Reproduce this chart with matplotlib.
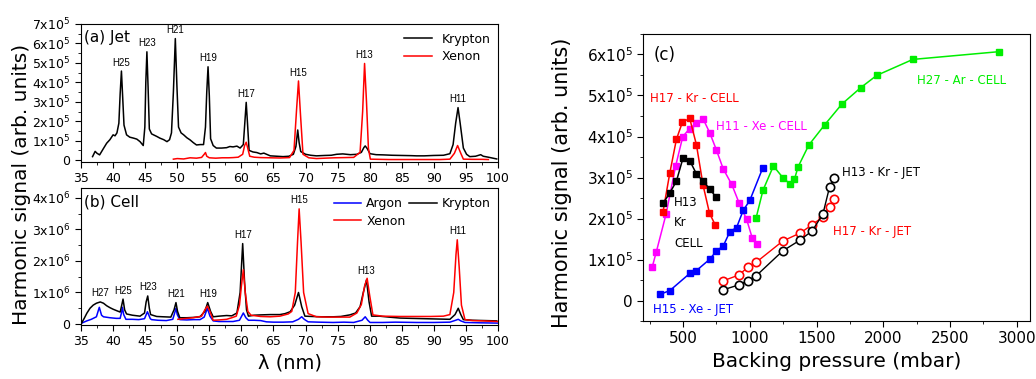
import numpy as np
import matplotlib
matplotlib.use("Agg")
import matplotlib.pyplot as plt
from matplotlib.ticker import MultipleLocator, FuncFormatter

plt.rcParams['font.family'] = ['DejaVu Sans']

# ---------------- (a) Jet spectra, units of 1e5 ----------------
jet_kr_lam = [36.8, 37.2, 37.5, 37.9, 38.5, 39.0, 39.5, 40.0, 40.3, 40.6, 40.9, 41.1, 41.3, 41.5, 41.7,
              42.1, 42.6, 43.2, 43.7, 44.2, 44.7, 44.95, 45.1, 45.27, 45.45, 45.65, 46.0, 46.3, 46.8,
              47.3, 47.9, 48.4, 48.8, 49.1, 49.4, 49.7, 49.95, 50.2, 50.6, 51.0, 51.5, 52.0, 52.5,
              53.0, 53.6, 54.1, 54.4, 54.6, 54.8, 55.0, 55.2, 55.6, 56.1, 56.9, 57.7, 58.2, 58.7,
              59.3, 59.8, 60.3, 60.55, 60.75, 60.95, 61.2, 61.8, 62.4, 63.0, 63.5, 64.5, 65.5, 66.5,
              67.4, 68.1, 68.5, 68.78, 69.0, 69.25, 70.0, 70.8, 71.7, 73.0, 74.0, 74.85, 75.8, 77.0,
              78.0, 78.7, 79.1, 79.3, 79.6, 80.05, 81.0, 82.1, 83.5, 85.0, 86.5, 87.3, 88.5, 90.0,
              91.5, 92.5, 93.0, 93.4, 93.77, 94.1, 94.6, 95.1, 95.6, 96.5, 97.3, 97.7, 98.5, 99.8]
jet_kr_sig = [0.18, 0.45, 0.35, 0.27, 0.6, 0.87, 1.05, 1.30, 1.25, 1.40, 1.9, 3.4, 4.58, 3.2, 1.8,
              1.30, 1.18, 1.13, 1.08, 0.95, 0.75, 1.7, 4.0, 5.57, 3.8, 1.6, 1.35, 1.30, 1.22,
              1.13, 1.05, 0.95, 1.05, 1.4, 3.5, 6.25, 3.8, 1.7, 1.40, 1.30, 1.15, 1.04, 0.90,
              0.78, 0.80, 0.80, 1.7, 3.5, 4.8, 3.3, 1.1, 0.75, 0.62, 0.62, 0.64, 0.70, 0.68,
              0.72, 0.62, 0.8, 2.0, 2.97, 1.9, 0.5, 0.42, 0.39, 0.32, 0.36, 0.22, 0.20, 0.18,
              0.20, 0.30, 0.7, 1.55, 0.9, 0.44, 0.30, 0.25, 0.22, 0.24, 0.25, 0.30, 0.32, 0.28,
              0.30, 0.40, 0.65, 0.73, 0.60, 0.33, 0.28, 0.27, 0.25, 0.24, 0.23, 0.22, 0.22, 0.24,
              0.25, 0.33, 0.8, 1.9, 2.70, 1.9, 0.62, 0.30, 0.18, 0.20, 0.28, 0.20, 0.15, 0.06]

jet_xe_lam = [49.4, 50.0, 51.0, 52.0, 53.0, 53.8, 54.2, 54.4, 54.6, 55.0, 56.0, 57.0, 58.0, 58.7,
              59.5, 60.2, 60.5, 60.75, 61.0, 61.3, 62.0, 63.0, 64.5, 66.0, 67.5, 68.2, 68.6, 68.9,
              69.2, 69.6, 70.5, 71.7, 73.0, 74.5, 76.0, 77.5, 78.5, 78.9, 79.2, 79.5, 79.8, 80.1,
              81.5, 83.0, 85.0, 87.0, 89.0, 91.0, 92.5, 93.2, 93.7, 94.2, 94.6, 96.0, 97.5, 98.5]
jet_xe_sig = [0.05, 0.08, 0.06, 0.12, 0.10, 0.14, 0.30, 0.39, 0.20, 0.12, 0.10, 0.12, 0.12, 0.13,
              0.15, 0.30, 0.75, 0.92, 0.60, 0.20, 0.15, 0.13, 0.12, 0.11, 0.13, 0.5, 2.6, 4.07,
              2.4, 0.30, 0.12, 0.08, 0.10, 0.12, 0.13, 0.14, 0.4, 2.5, 4.97, 3.0, 0.6, 0.05,
              0.04, 0.03, 0.03, 0.03, 0.03, 0.03, 0.05, 0.35, 0.75, 0.35, 0.05, 0.04, 0.04, 0.03]

jet_labels = ['H25', 'H23', 'H21', 'H19', 'H17', 'H15', 'H13', 'H11']
jet_label_lam = [41.3, 45.27, 49.7, 54.8, 60.75, 68.9, 79.2, 93.77]

# ---------------- (b) Cell spectra, units of 1e6 ----------------
cell_ar_lam = [35.0, 35.9, 36.6, 37.4, 37.85, 38.2, 38.5, 39.5, 40.5, 41.1, 41.3, 41.45, 41.65, 42.0,
               43.0, 44.0, 44.9, 45.35, 45.8, 46.0, 47.0, 48.3, 49.3, 49.6, 49.8, 50.0, 50.4, 51.5,
               52.5, 53.55, 54.2, 54.7, 55.1, 55.6, 56.5, 57.5, 58.7, 59.7, 60.3, 60.7, 61.1, 62.0,
               63.0, 63.9, 65.0, 66.5, 68.0, 68.9, 69.4, 69.8, 70.4, 72.0, 74.3, 76.0, 77.5, 78.8,
               79.3, 79.7, 80.05, 82.0, 84.0, 87.3, 90.0, 92.5, 93.4, 93.8, 94.2, 94.85, 97.0, 99.9]
cell_ar_sig = [0.02, 0.10, 0.15, 0.23, 0.53, 0.28, 0.23, 0.20, 0.18, 0.18, 0.35, 0.53, 0.30, 0.15,
               0.15, 0.14, 0.17, 0.39, 0.17, 0.14, 0.12, 0.11, 0.15, 0.35, 0.50, 0.30, 0.14, 0.13,
               0.14, 0.14, 0.22, 0.50, 0.25, 0.10, 0.08, 0.08, 0.08, 0.12, 0.35, 0.20, 0.12, 0.12,
               0.11, 0.07, 0.06, 0.06, 0.07, 0.15, 0.23, 0.15, 0.07, 0.06, 0.05, 0.06, 0.05, 0.12,
               0.23, 0.12, 0.05, 0.05, 0.06, 0.05, 0.05, 0.06, 0.12, 0.15, 0.10, 0.05, 0.04, 0.03]

cell_kr_lam = [35.0, 35.5, 35.9, 36.4, 36.9, 37.4, 38.0, 38.5, 39.0, 39.5, 40.0, 40.6, 41.1, 41.35,
               41.55, 41.8, 42.1, 43.0, 44.2, 44.9, 45.15, 45.4, 45.65, 45.85, 46.8, 47.8, 49.0,
               49.5, 49.8, 50.05, 50.4, 51.5, 52.5, 53.55, 54.3, 54.75, 55.2, 55.6, 56.5, 57.7,
               58.5, 59.3, 59.8, 60.2, 60.5, 60.8, 61.1, 62.0, 63.0, 64.5, 66.0, 66.8, 67.6, 68.3,
               68.9, 69.4, 69.9, 71.0, 72.5, 74.3, 75.5, 76.9, 77.8, 78.5, 79.0, 79.5, 79.9, 80.3,
               81.5, 83.0, 84.7, 86.5, 88.5, 90.5, 92.5, 93.3, 93.8, 94.2, 94.6, 96.0, 98.0, 99.8]
cell_kr_sig = [0.0, 0.18, 0.34, 0.50, 0.60, 0.66, 0.70, 0.66, 0.58, 0.52, 0.47, 0.42, 0.38, 0.60,
               0.79, 0.45, 0.32, 0.28, 0.25, 0.35, 0.70, 0.89, 0.50, 0.30, 0.24, 0.23, 0.22,
               0.45, 0.68, 0.40, 0.20, 0.20, 0.21, 0.23, 0.40, 0.68, 0.40, 0.23, 0.25, 0.27,
               0.26, 0.35, 1.0, 2.55, 1.3, 0.45, 0.25, 0.28, 0.29, 0.30, 0.30, 0.33, 0.39, 0.60,
               1.0, 0.55, 0.25, 0.24, 0.23, 0.23, 0.24, 0.29, 0.35, 0.55, 1.0, 1.40, 0.70, 0.25,
               0.25, 0.22, 0.19, 0.18, 0.17, 0.16, 0.15, 0.30, 0.50, 0.30, 0.14, 0.12, 0.11, 0.10]

cell_xe_lam = [50.1, 51.0, 52.5, 53.8, 54.3, 54.7, 55.1, 55.6, 56.5, 57.7, 58.5, 59.2, 59.7, 60.0,
               60.3, 60.6, 61.0, 61.5, 63.0, 64.5, 66.0, 67.3, 67.85, 68.4, 68.75, 69.0, 69.3, 69.7,
               70.4, 71.7, 73.5, 75.0, 76.9, 78.0, 78.7, 79.2, 79.6, 80.0, 80.5, 82.0, 84.7, 87.0,
               89.5, 91.5, 92.5, 93.1, 93.45, 93.65, 93.95, 94.3, 94.85, 96.0, 97.7, 99.9]
cell_xe_sig = [0.15, 0.17, 0.20, 0.25, 0.45, 0.57, 0.40, 0.12, 0.13, 0.15, 0.20, 0.25, 0.60, 1.2,
               1.72, 1.0, 0.40, 0.28, 0.24, 0.23, 0.25, 0.32, 0.40, 1.0, 2.6, 3.65, 2.6, 1.0,
               0.33, 0.23, 0.22, 0.22, 0.22, 0.35, 0.62, 1.2, 1.45, 0.9, 0.29, 0.25, 0.24, 0.24,
               0.24, 0.25, 0.30, 1.0, 2.2, 2.67, 1.8, 0.60, 0.14, 0.11, 0.10, 0.08]

cell_labels = ['H27', 'H25', 'H23', 'H21', 'H19', 'H17', 'H15', 'H13', 'H11']
cell_label_lam = [38.0, 41.55, 45.4, 49.8, 54.75, 60.2, 69.0, 79.5, 93.65]

# ---------------- (c) signal vs backing pressure ----------------
h17_kr_cell_p = [350, 400, 450, 495, 550, 600, 650, 698, 740]
h17_kr_cell_s = [2.17, 3.10, 3.93, 4.35, 4.44, 3.80, 2.81, 2.13, 1.85]

h13_kr_cell_p = [350, 400, 450, 500, 550, 600, 650, 700, 745]
h13_kr_cell_s = [2.37, 2.62, 2.91, 3.48, 3.41, 3.09, 2.91, 2.72, 2.53]

h11_xe_cell_p = [269, 299, 372, 445, 498, 549, 598, 650, 700, 750, 801, 865, 921, 976, 1019, 1051]
h11_xe_cell_s = [0.82, 1.18, 2.10, 3.29, 4.00, 4.19, 4.32, 4.43, 4.09, 3.67, 3.21, 2.83, 2.37, 1.98,
                 1.52, 1.39]

h15_xe_jet_p = [325, 400, 550, 600, 701, 750, 801, 851, 901, 951, 1000, 1098]
h15_xe_jet_s = [0.15, 0.24, 0.66, 0.73, 1.01, 1.21, 1.33, 1.68, 1.78, 2.20, 2.44, 3.24]

h27_ar_cell_p = [1047, 1099, 1177, 1247, 1302, 1335, 1362, 1442, 1560, 1690, 1831, 1951, 2222, 2871]
h27_ar_cell_s = [2.01, 2.69, 3.28, 3.00, 2.84, 2.96, 3.26, 3.79, 4.28, 4.79, 5.19, 5.49, 5.88, 6.07]

h17_kr_jet_p = [801, 916, 986, 1047, 1247, 1380, 1468, 1548, 1598, 1633]
h17_kr_jet_s = [0.48, 0.62, 0.81, 0.93, 1.45, 1.65, 1.85, 2.04, 2.27, 2.48]

h13_kr_jet_p = [801, 916, 983, 1047, 1247, 1380, 1468, 1548, 1598, 1632]
h13_kr_jet_s = [0.26, 0.38, 0.48, 0.60, 1.21, 1.48, 1.70, 2.11, 2.77, 2.98]


def sci_fmt(power):
    def f(v, pos):
        n = int(round(v / 10 ** power))
        if n == 0:
            return '0'
        return f'{n}x10$^{{{power}}}$'
    return FuncFormatter(f)


def style_axis(ax):
    ax.tick_params(which='both', direction='out', top=False, right=False, labelsize=9)
    ax.tick_params(which='major', length=4)
    ax.tick_params(which='minor', length=2)


fig = plt.figure(figsize=(10.36, 3.79), dpi=100)
ax_a = fig.add_axes([0.0782, 0.5734, 0.4025, 0.3633])
ax_b = fig.add_axes([0.0782, 0.1425, 0.4025, 0.3605])
ax_c = fig.add_axes([0.6207, 0.153, 0.3735, 0.7573])

# (a)
ax_a.plot(jet_kr_lam, np.array(jet_kr_sig) * 1e5, color='black', lw=1.1, label='Krypton')
ax_a.plot(jet_xe_lam, np.array(jet_xe_sig) * 1e5, color='red', lw=1.1, label='Xenon')
ax_a.set_xlim(35, 100)
ax_a.set_ylim(-0.08e5, 7e5)
ax_a.xaxis.set_major_locator(MultipleLocator(5))
ax_a.xaxis.set_minor_locator(MultipleLocator(2.5))
ax_a.yaxis.set_major_locator(MultipleLocator(1e5))
ax_a.yaxis.set_minor_locator(MultipleLocator(0.5e5))
ax_a.yaxis.set_major_formatter(sci_fmt(5))
style_axis(ax_a)
ax_a.text(0.006, 0.9, '(a) Jet', transform=ax_a.transAxes, fontsize=11, va='center')
for name, lam in zip(jet_labels, jet_label_lam):
    top = max(np.interp(lam, jet_kr_lam, jet_kr_sig), np.interp(lam, jet_xe_lam, jet_xe_sig)) * 1e5
    ax_a.annotate(name, (lam, top), xytext=(0, 2.5), textcoords='offset points',
                  ha='center', va='bottom', fontsize=7, family='Liberation Sans')
ax_a.legend(loc='upper right', bbox_to_anchor=(1.0, 0.99), frameon=False, fontsize=9,
            handlelength=2.2, labelspacing=0.35, borderaxespad=0.2)

# (b)
ax_b.plot(cell_ar_lam, np.array(cell_ar_sig) * 1e6, color='blue', lw=1.1, label='Argon')
ax_b.plot(cell_xe_lam, np.array(cell_xe_sig) * 1e6, color='red', lw=1.1, label='Xenon')
ax_b.plot(cell_kr_lam, np.array(cell_kr_sig) * 1e6, color='black', lw=1.1, label='Krypton')
ax_b.lines[1].set_zorder(3)
ax_b.set_xlim(35, 100)
ax_b.set_ylim(-0.03e6, 4.3e6)
ax_b.xaxis.set_major_locator(MultipleLocator(5))
ax_b.xaxis.set_minor_locator(MultipleLocator(2.5))
ax_b.yaxis.set_major_locator(MultipleLocator(1e6))
ax_b.yaxis.set_minor_locator(MultipleLocator(0.5e6))
ax_b.yaxis.set_major_formatter(sci_fmt(6))
style_axis(ax_b)
ax_b.text(0.006, 0.9, '(b) Cell', transform=ax_b.transAxes, fontsize=11, va='center')
for name, lam in zip(cell_labels, cell_label_lam):
    top = max(np.interp(lam, cell_kr_lam, cell_kr_sig), np.interp(lam, cell_xe_lam, cell_xe_sig),
              np.interp(lam, cell_ar_lam, cell_ar_sig)) * 1e6
    ax_b.annotate(name, (lam, top), xytext=(0, 2.5), textcoords='offset points',
                  ha='center', va='bottom', fontsize=7, family='Liberation Sans')
ax_b.legend(loc='upper right', bbox_to_anchor=(1.0, 0.99), frameon=False, fontsize=9, ncol=2,
            handlelength=2.2, labelspacing=0.35, columnspacing=0.3, handletextpad=0.4,
            borderaxespad=0.2)
ax_b.set_xlabel('λ (nm)', fontsize=14)
fig.text(0.021, 1 - 184 / 379, 'Harmonic signal (arb. units)', rotation=90,
         ha='center', va='center', fontsize=14.5)

# (c)
sq = dict(marker='s', ms=5, lw=1.1)
ax_c.plot(h11_xe_cell_p, np.array(h11_xe_cell_s) * 1e5, color='magenta', **sq)
ax_c.plot(h15_xe_jet_p, np.array(h15_xe_jet_s) * 1e5, color='blue', **sq)
ax_c.plot(h27_ar_cell_p, np.array(h27_ar_cell_s) * 1e5, color='#00ee00', **sq)
ax_c.plot(h17_kr_cell_p, np.array(h17_kr_cell_s) * 1e5, color='red', **sq)
ax_c.plot(h13_kr_cell_p, np.array(h13_kr_cell_s) * 1e5, color='black', **sq)
ax_c.plot(h17_kr_jet_p, np.array(h17_kr_jet_s) * 1e5, color='red', marker='o', ms=6,
          mfc='white', mew=1.2, lw=1.0)
ax_c.plot(h13_kr_jet_p, np.array(h13_kr_jet_s) * 1e5, color='black', marker='o', ms=6,
          mfc='white', mew=1.2, lw=1.0)
ax_c.set_xlim(200, 3100)
ax_c.set_ylim(-0.5e5, 6.5e5)
ax_c.xaxis.set_major_locator(MultipleLocator(500))
ax_c.xaxis.set_minor_locator(MultipleLocator(250))
ax_c.yaxis.set_major_locator(MultipleLocator(1e5))
ax_c.yaxis.set_minor_locator(MultipleLocator(0.5e5))
ax_c.yaxis.set_major_formatter(sci_fmt(5))
style_axis(ax_c)
ax_c.tick_params(labelsize=11)
ax_c.set_xlabel('Backing pressure (mbar)', fontsize=14.5)
ax_c.set_ylabel('Harmonic signal (arb. units)', fontsize=15)
ax_c.yaxis.set_label_coords(-0.183, 0.48)

fs = 8.5
ax_c.text(282, 5.99e5, '(c)', fontsize=12, va='center')
ax_c.text(252, 4.93e5, 'H17 - Kr - CELL', color='red', fontsize=fs, va='center')
ax_c.text(750, 4.24e5, 'H11 - Xe - CELL', color='magenta', fontsize=fs, va='center')
ax_c.text(2250, 5.36e5, 'H27 - Ar - CELL', color='#00ee00', fontsize=fs, va='center')
ax_c.text(1693, 3.12e5, 'H13 - Kr - JET', color='black', fontsize=fs, va='center')
ax_c.text(1623, 1.68e5, 'H17 - Kr - JET', color='red', fontsize=fs, va='center')
ax_c.text(432, 1.90e5, 'H13\nKr\nCELL', color='black', fontsize=fs, va='center', linespacing=1.75)
ax_c.text(277, -0.23e5, 'H15 - Xe - JET', color='blue', fontsize=fs, va='center')

fig.savefig('out.png', dpi=100)
